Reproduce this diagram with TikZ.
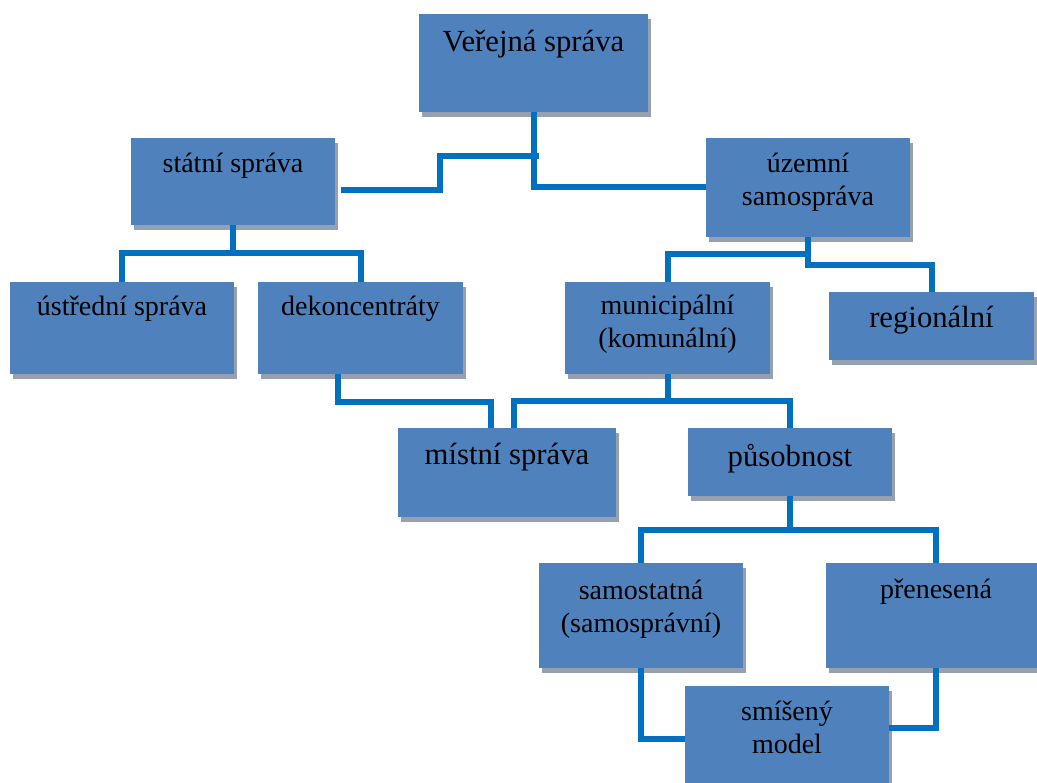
\documentclass[tikz,border=0pt]{standalone}
\usepackage{fontspec}
\setmainfont{Liberation Serif}
\usetikzlibrary{shadows}

\definecolor{unitfill}{RGB}{79,129,189}
\definecolor{unitshade}{RGB}{150,160,174}
\definecolor{linkblue}{RGB}{0,112,192}

\begin{document}
\begin{tikzpicture}[x=1pt,y=-1pt,
    unit/.style n args={3}{rectangle,fill=unitfill,inner sep=0pt,align=center,
        minimum width=#1pt,text height=#2pt,text depth=#3pt,
        font=\fontsize{28}{33}\selectfont,
        drop shadow={shadow xshift=3pt,shadow yshift=-5pt,fill=unitshade,opacity=1}},
    big/.style={font=\fontsize{30.7}{36}\selectfont},
    link/.style={draw=linkblue,line width=6pt},
    elbow/.style={to path={-- ++(0,#1) -| (\tikztotarget)}}]
    \clip (0,0) rectangle (1037,783);

    % boxes
    \node[unit={229}{38}{60},big] (verejna) at (533.5,63) {Veřejná správa};
    \node[unit={204}{35}{52}] (statni) at (233,181.5) {státní správa};
    \node[unit={204}{68}{31}] (uzemni) at (808,187.5) {územní\\samospráva};
    \node[unit={224}{34}{58}] (ustredni) at (122,328) {ústřední správa};
    \node[unit={205}{34}{58}] (dekoncentraty) at (360.5,328) {dekoncentráty};
    \node[unit={205}{66}{26}] (municipalni) at (667.5,328) {municipální\\(komunální)};
    \node[unit={205}{36}{32},big] (regionalni) at (931.5,326) {regionální};
    \node[unit={218}{37}{52},big] (mistni) at (507,472.5) {místní správa};
    \node[unit={204}{39}{29},big] (pusobnost) at (790,462) {působnost};
    \node[unit={204}{69}{36}] (samostatna) at (641,615.5) {samostatná\\(samosprávní)};
    \node[unit={220}{35}{70}] (prenesena) at (936,615.5) {přenesená};
    \node[unit={204}{67}{39}] (smiseny) at (787,739) {smíšený\\model};

    \coordinate (bend) at (440,156);
    \coordinate (tap) at (539,156);

    % connectors
    \draw[link] (verejna.south) |- (uzemni.west);
    \draw[link] ([shift={(6,8.5)}]statni.east) -| (bend) -- (tap);
    \path[link]
        (statni.south) edge[elbow=28] (ustredni.north)
        (statni.south) edge[elbow=28] (dekoncentraty.north)
        (uzemni.south) edge[elbow=17] (municipalni.north)
        (uzemni.south) edge[elbow=28] (regionalni.north)
        ([xshift=-22.5pt]dekoncentraty.south) edge[elbow=28] ([xshift=-16pt]mistni.north)
        (municipalni.south) edge[elbow=27] ([xshift=7pt]mistni.north)
        (municipalni.south) edge[elbow=27] (pusobnost.north)
        (pusobnost.south) edge[elbow=34] (samostatna.north)
        (pusobnost.south) edge[elbow=34] (prenesena.north)
    ;
    \draw[link] (samostatna.south) |- (smiseny.west);
    \draw[link] (prenesena.south) |- ([yshift=11pt]smiseny.east);
\end{tikzpicture}
\end{document}
